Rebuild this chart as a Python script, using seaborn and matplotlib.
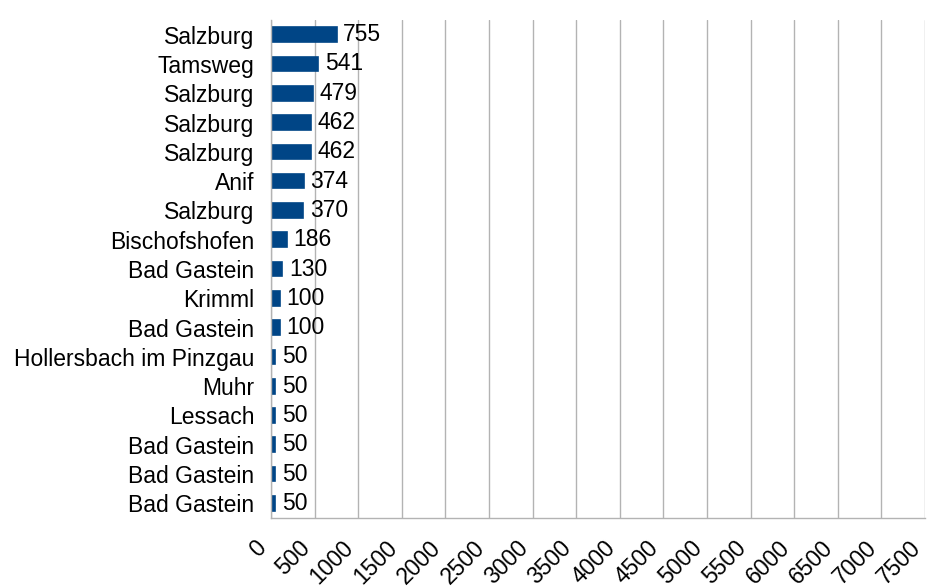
import numpy as np
import pandas as pd
import matplotlib
matplotlib.use('Agg')
import matplotlib.pyplot as plt
import seaborn as sns

places = ['Salzburg', 'Tamsweg', 'Salzburg', 'Salzburg', 'Salzburg', 'Anif', 'Salzburg',
          'Bischofshofen', 'Bad Gastein', 'Krimml', 'Bad Gastein', 'Hollersbach im Pinzgau',
          'Muhr', 'Lessach', 'Bad Gastein', 'Bad Gastein', 'Bad Gastein']
values = [755, 541, 479, 462, 462, 374, 370, 186, 130, 100, 100, 50, 50, 50, 50, 50, 50]
xticks = list(range(0, 7501, 500))

sns.set_style('white')
plt.rcParams['font.family'] = ['Liberation Sans', 'DejaVu Sans']
plt.rcParams['text.color'] = 'black'
plt.rcParams['xtick.labelcolor'] = 'black'
plt.rcParams['ytick.labelcolor'] = 'black'

grid_col = '#b3b3b3'
bar_col = '#004586'
fs = 16.5

df = pd.DataFrame({'slot': [str(i) for i in range(len(places))], 'value': values})

fig = plt.figure(figsize=(9.38, 5.88), dpi=100)
ax = fig.add_axes([0.2889, 0.119, 0.9861 - 0.2889, 0.966 - 0.119])
sns.barplot(data=df, x='value', y='slot', order=df['slot'], orient='h',
            color=bar_col, width=0.5, saturation=1, edgecolor=bar_col, linewidth=1.2, ax=ax)

ax.set_xlim(0, 7500)
ax.set_ylim(len(places) - 0.5, -0.5)
ax.set_xticks(xticks)
ax.set_xticklabels([str(t) for t in xticks], rotation=45, ha='right', va='top',
                   rotation_mode='default', fontsize=fs)
ax.set_yticks(range(len(places)))
ax.set_yticklabels(places, fontsize=fs)
ax.set_yticks(np.arange(-0.5, len(places), 1), minor=True)
ax.tick_params(axis='y', which='major', length=0, pad=12)
ax.tick_params(axis='y', which='minor', length=7.2, color=grid_col, width=1)
ax.tick_params(axis='x', length=7.2, color=grid_col, width=1, pad=6)
ax.set_xlabel('')
ax.set_ylabel('')

ax.grid(axis='x', color=grid_col, linewidth=1)
ax.set_axisbelow(True)
for side in ['top', 'right']:
    ax.spines[side].set_visible(False)
for side in ['left', 'bottom']:
    ax.spines[side].set_color(grid_col)
    ax.spines[side].set_linewidth(1)

for i, v in enumerate(values):
    ax.text(v + 75, i, str(v), va='center', ha='left', fontsize=fs, color='black')

plt.savefig('out.png', dpi=100)
